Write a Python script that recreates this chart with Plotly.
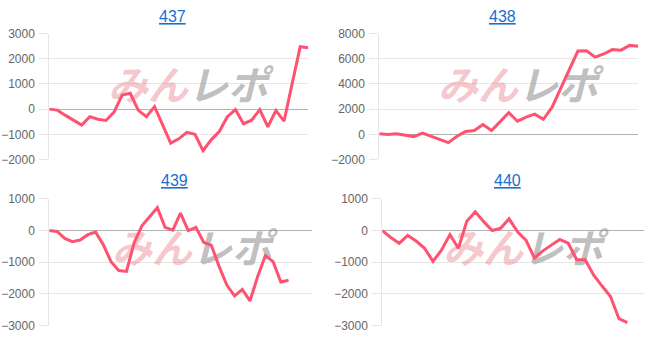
import plotly.graph_objects as go

W, H = 655, 342

# ---- data ----
titles = ["437", "438", "439", "440"]

values_437 = [0, -40, -250, -450, -630, -300, -400, -450, -120, 560, 630, -50, -300, 100,
              -630, -1350, -1180, -920, -1000, -1650, -1220, -890, -300, -20, -580, -440,
              -20, -700, -60, -480, 1000, 2480, 2440]
values_438 = [50, -25, 50, -75, -180, 100, -150, -400, -660, -150, 230, 300, 780, 300,
              1000, 1720, 1040, 1370, 1600, 1190, 2130, 3620, 5110, 6610, 6630, 6130,
              6380, 6730, 6680, 7060, 6990]
values_439 = [0, -30, -250, -350, -300, -130, -50, -450, -980, -1260, -1290, -380, 150,
              450, 720, 100, 10, 550, 0, 100, -370, -470, -1130, -1720, -2060, -1860,
              -2220, -1450, -790, -980, -1620, -1570, None, None, None]
values_440 = [0, -220, -400, -150, -330, -560, -970, -620, -130, -560, 290, 590, 280, 0,
              70, 370, -40, -300, -870, -640, -460, -280, -400, -920, -920, -1400, -1750,
              -2080, -2780, -2900, None, None]

series = [values_437, values_438, values_439, values_440]
y_ranges = [(-2000, 3000), (-2000, 8000), (-3000, 1000), (-3000, 1000)]
y_dticks = [1000, 2000, 1000, 1000]

# ---- layout geometry (pixels) ----
plot_px = [  # x0, x1, ytop, ybottom
    (49.3, 308.3, 27.7, 159.0),
    (379.3, 638.3, 27.7, 159.0),
    (49.3, 311.7, 200.0, 332.3),
    (382.3, 644.3, 200.0, 332.3),
]
title_px = [(172, 10), (502, 10), (174, 181), (507, 181)]
wm_px = [(188, 87), (518, 87), (192, 257), (523, 257)]

line_color = "rgb(255,82,112)"
grid_color = "#e6e6e6"

fig = go.Figure()
layout = dict(
    width=W, height=H, margin=dict(l=0, r=0, t=0, b=0),
    paper_bgcolor="white", plot_bgcolor="white", showlegend=False,
    font=dict(family="Liberation Sans, Arial, sans-serif"),
)
annotations = []

wm_text = ("<b><i><span style='color:rgba(232,120,132,0.42)'>みん</span>"
           "<span style='color:rgba(150,150,150,0.62)'>レポ</span></i></b>")

for i, vals in enumerate(series):
    n = i + 1
    xa = "x" if n == 1 else f"x{n}"
    ya = "y" if n == 1 else f"y{n}"
    x0, x1, yt, yb = plot_px[i]
    ymin, ymax = y_ranges[i]
    npts = len(vals)
    xs = list(range(npts))

    # watermark (drawn below the line)
    wx, wy = wm_px[i]
    wxd = (wx - x0) / (x1 - x0) * (npts - 1)
    wyd = ymax - (wy - yt) / (yb - yt) * (ymax - ymin)
    fig.add_trace(go.Scatter(
        x=[wxd], y=[wyd], mode="text", text=[wm_text],
        textfont=dict(family="Noto Sans CJK JP", size=40),
        textposition="middle center", hoverinfo="skip", xaxis=xa, yaxis=ya))

    fig.add_trace(go.Scatter(
        x=xs, y=vals, mode="lines", line=dict(color=line_color, width=3),
        connectgaps=False, hoverinfo="skip", xaxis=xa, yaxis=ya))

    xkey = "xaxis" if n == 1 else f"xaxis{n}"
    ykey = "yaxis" if n == 1 else f"yaxis{n}"
    layout[xkey] = dict(
        domain=[x0 / W, x1 / W], range=[0, npts - 1], anchor=ya,
        showgrid=False, zeroline=False, showline=False, showticklabels=False,
        ticks="", fixedrange=True)
    layout[ykey] = dict(
        domain=[1 - yb / H, 1 - yt / H], range=[ymin, ymax], anchor=xa,
        dtick=y_dticks[i], tick0=0, showgrid=True, gridcolor=grid_color, gridwidth=1,
        zeroline=True, zerolinecolor="#b3b3b3", zerolinewidth=1,
        showline=True, linecolor=grid_color, linewidth=1,
        ticks="outside", ticklen=9, tickcolor=grid_color,
        ticklabelstandoff=2,
        tickfont=dict(family="Liberation Sans, Arial, sans-serif", size=12, color="#666666"),
        fixedrange=True)

    tx, ty = title_px[i]
    annotations.append(dict(
        text=titles[i], x=tx / W, y=1 - ty / H, xref="paper", yref="paper",
        xanchor="center", yanchor="middle", showarrow=False,
        font=dict(family="Liberation Sans, Arial, sans-serif", size=16,
                  color="#1a6fd0", lineposition="under")))

layout["annotations"] = annotations
fig.update_layout(**layout)
fig.write_html("out.html")
